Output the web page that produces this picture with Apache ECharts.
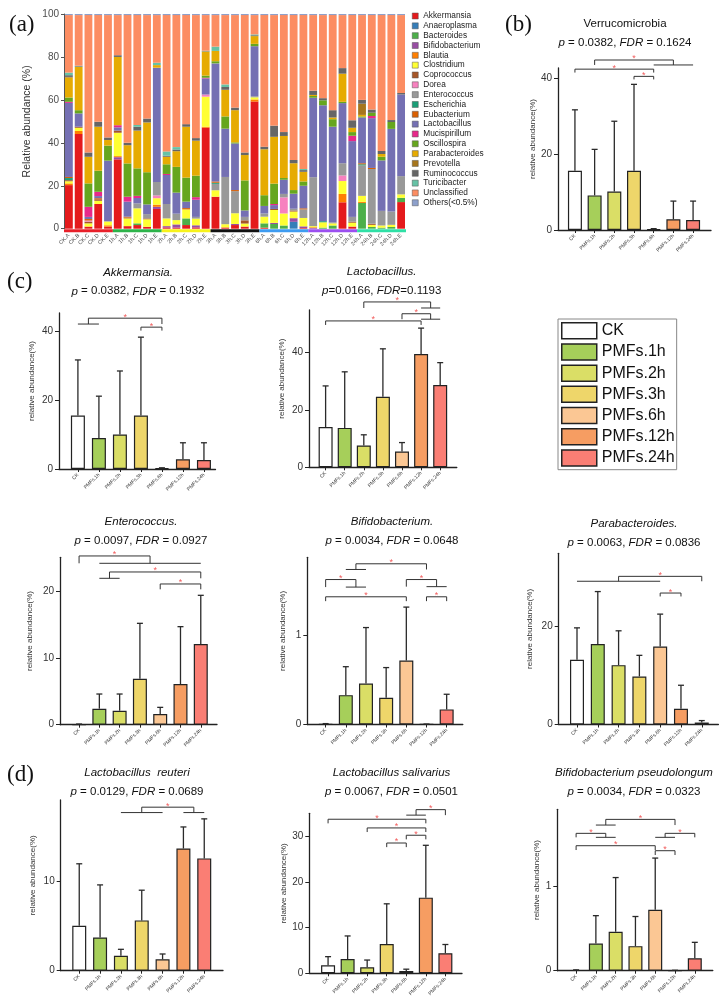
<!DOCTYPE html>
<html>
<head>
<meta charset="utf-8">
<title>PMFs gut microbiota</title>
<script src="https://cdn.jsdelivr.net/npm/echarts@6/dist/echarts.min.js"></script>
<style>
  html, body { margin: 0; padding: 0; background: #fff; }
  #chart { width: 725px; height: 1005px; }
</style>
</head>
<body>
<div id="chart"></div>
<script>
// ---------- (a) genus composition, one value per sample ----------
const samples = ['CK.A', 'CK.B', 'CK.C', 'CK.D', 'CK.E', '1h.A', '1h.B', '1h.C', '1h.D', '1h.E',
  '2h.A', '2h.B', '2h.C', '2h.D', '2h.E', '3h.A', '3h.B', '3h.C', '3h.D', '3h.E',
  '6h.A', '6h.B', '6h.C', '6h.D', '6h.E', '12h.A', '12h.B', '12h.C', '12h.D', '12h.E',
  '24h.A', '24h.B', '24h.C', '24h.D', '24h.E'];
const taxa = ['Akkermansia', 'Anaeroplasma', 'Bacteroides', 'Bifidobacterium', 'Blautia', 'Clostridium',
  'Coprococcus', 'Dorea', 'Enterococcus', 'Escherichia', 'Eubacterium', 'Lactobacillus', 'Mucispirillum',
  'Oscillospira', 'Parabacteroides', 'Prevotella', 'Ruminococcus', 'Turicibacter', 'Unclassified', 'Others(<0.5%)'];

const akkermansia = [20.3, 44.1, 1.0, 11.5, 1.0, 32.3, 1.2, 1.7, 0.9, 9.2, 0.6, 0.5, 1.7, 0.6, 47.0, 14.9, 0.6, 1.7, 1.0, 59.2, 0.5, 0, 0, 0, 0.3, 0, 0, 0, 12.3, 1.0, 0, 0, 0, 0, 12.4];
const anaeroplasma = [0, 0, 0, 0, 0, 0, 0, 0, 0, 0, 0, 0, 0, 0, 0, 0, 0, 0, 0, 0, 0, 0, 0, 3.2, 0, 0, 0, 0, 0, 0, 0, 0, 0, 0, 0];
const bacteroides = [0, 0, 0, 0, 0, 0, 0, 0.8, 0, 0, 0, 0, 3.1, 0, 0, 0, 0, 0, 0, 0, 2.0, 2.2, 1.5, 0, 0, 0, 0.5, 1.5, 0, 0, 12.0, 0.8, 0.5, 0.8, 2.0];
const bifidobacterium = [0, 0, 0, 0, 0, 1.0, 0, 0, 0, 1.0, 0.6, 1.5, 0, 1.0, 0, 0, 0, 0.5, 0, 0, 0, 0.5, 0, 1.7, 0.8, 0.4, 0, 0, 0, 0, 0, 0, 0, 0, 0];
const blautia = [0.8, 1.4, 0, 0, 0.6, 0.5, 0, 0, 0, 1.0, 0, 0, 0, 0, 0.5, 0, 0, 0, 0, 1.0, 0, 0, 0, 0, 0, 0.3, 0, 0, 3.9, 0, 0.5, 0, 0, 0, 0];
const clostridium = [1.0, 1.5, 1.5, 1.5, 1.8, 10.9, 3.6, 7.0, 3.5, 3.0, 3.6, 2.0, 4.2, 3.1, 14.0, 3.0, 1.5, 5.0, 1.4, 1.0, 3.1, 6.0, 5.6, 3.1, 3.9, 0.5, 2.5, 1.0, 6.0, 1.8, 2.8, 1.0, 1.0, 1.0, 1.6];
const coprococcus = [0.5, 0.5, 0.8, 0.7, 0, 1.0, 0.4, 0, 0.4, 0, 0, 0, 0, 0, 0, 0, 0, 0, 1.5, 0, 0, 0.5, 0, 0.5, 0, 0, 0, 0, 0, 0.5, 0, 0.5, 0, 0, 0];
const dorea = [0, 0, 0.5, 0, 0, 0, 0, 0, 0, 1.3, 0, 0, 0, 0, 1.0, 0, 0, 0, 0, 0, 0, 0, 7.5, 0, 0, 0, 0, 0, 2.6, 0, 0, 0, 0, 0, 0];
const enterococcus = [0, 0, 0, 0, 0, 0, 0, 2.3, 2.0, 6.3, 6.7, 3.0, 0, 0.8, 0, 3.0, 22.0, 10.3, 1.6, 0.5, 1.5, 0, 1.6, 0.8, 4.0, 22.8, 0, 0.5, 5.7, 2.2, 14.2, 25.5, 6.8, 6.2, 8.5];
const escherichia = [1.0, 0, 0, 0, 0, 0, 0, 0, 0, 0, 0, 0, 0, 0, 0, 0.5, 0, 0, 0, 0, 0, 0, 0, 0, 0, 0, 0.5, 0, 0, 0, 0.5, 0, 0, 0, 0];
const eubacterium = [0.5, 0, 0.7, 0.5, 0, 0, 0.4, 0, 0, 0, 0, 0, 0.6, 0, 0, 0.6, 0, 0.5, 0, 0, 0, 0, 0, 0, 0.5, 0, 0, 0, 0, 0, 0.5, 0.5, 0, 0, 0];
const lactobacillus = [34.5, 6.2, 1.0, 1.0, 28.3, 1.5, 7.0, 2.5, 4.5, 53.2, 13.5, 9.8, 3.0, 8.0, 7.5, 55.0, 22.5, 21.7, 3.0, 23.3, 3.5, 1.8, 6.6, 7.0, 10.5, 37.0, 54.0, 44.5, 28.0, 35.3, 21.3, 23.2, 23.5, 38.5, 38.0];
const mucispirillum = [0.5, 0, 4.7, 2.0, 0, 1.0, 2.3, 1.0, 0, 0, 0.5, 0, 0, 1.2, 0.3, 0, 0, 0, 0, 0, 0, 0.5, 0, 0, 0, 0, 0, 0, 0, 2.5, 0, 1.0, 0, 0, 0];
const oscillospira = [2.0, 1.5, 10.9, 9.8, 7.0, 0, 15.5, 12.8, 15.0, 0, 4.5, 12.0, 11.2, 10.0, 1.0, 1.0, 5.7, 0.5, 14.0, 1.1, 5.0, 9.5, 0.8, 1.7, 2.0, 0.8, 2.3, 3.5, 0.6, 1.7, 0.5, 1.5, 1.7, 3.2, 0];
const parabacteroides = [9.3, 20.2, 12.4, 20.5, 2.6, 31.8, 8.5, 17.6, 23.2, 1.2, 3.5, 7.3, 23.7, 16.3, 11.2, 4.8, 12.4, 15.0, 11.8, 3.6, 21.4, 21.8, 19.6, 12.5, 4.5, 0.5, 0, 0.8, 13.1, 2.0, 0.7, 0, 1.3, 0, 0];
const prevotella = [0.3, 0, 0, 0, 0, 0, 0, 0, 0, 0, 0, 0, 0, 0, 0, 0, 0, 0, 0, 0, 0, 0, 0, 0, 0, 0, 0, 0, 0, 0, 5.2, 0, 0, 0, 0];
const ruminococcus = [0.8, 0.3, 2.0, 2.3, 1.2, 0.8, 1.1, 1.8, 1.8, 0, 0.5, 0.8, 1.2, 1.2, 0.2, 0, 1.3, 1.2, 1.2, 0.4, 1.2, 5.2, 1.8, 1.5, 0.8, 2.0, 1.0, 3.4, 2.6, 3.5, 1.8, 1.5, 1.4, 0.9, 0.7];
const turicibacter = [1.2, 0.2, 0, 0, 0, 0, 0, 0.8, 0, 1.1, 2.0, 1.1, 0, 0, 0.2, 2.0, 1.2, 0, 0, 0.4, 0, 0, 0, 0, 0.5, 0, 0, 0, 0, 0, 0, 0, 0, 0, 0];
const unclassified = [26.8, 23.6, 64.0, 49.7, 57.0, 18.7, 59.5, 51.2, 48.2, 22.2, 63.5, 61.5, 50.8, 57.3, 16.6, 14.7, 32.3, 43.1, 64.0, 9.0, 61.3, 51.5, 54.5, 67.5, 71.7, 35.2, 38.7, 44.3, 24.7, 49.0, 39.5, 44.0, 63.3, 48.9, 36.3];
const others = [0.5, 0.5, 0.5, 0.5, 0.5, 0.5, 0.5, 0.5, 0.5, 0.5, 0.5, 0.5, 0.5, 0.5, 0.5, 0.5, 0.5, 0.5, 0.5, 0.5, 0.5, 0.5, 0.5, 0.5, 0.5, 0.5, 0.5, 0.5, 0.5, 0.5, 0.5, 0.5, 0.5, 0.5, 0.5];

const taxaValues = [akkermansia, anaeroplasma, bacteroides, bifidobacterium, blautia, clostridium, coprococcus,
  dorea, enterococcus, escherichia, eubacterium, lactobacillus, mucispirillum, oscillospira, parabacteroides,
  prevotella, ruminococcus, turicibacter, unclassified, others];
// first / last sample of each time point
const sampleGroups = [[0, 4], [5, 9], [10, 14], [15, 19], [20, 24], [25, 29], [30, 34]];

// ---------- (b)-(d) group means and upper error (mean + SD) ----------
const groups = ['CK', 'PMFs.1h', 'PMFs.2h', 'PMFs.3h', 'PMFs.6h', 'PMFs.12h', 'PMFs.24h'];

const verrucoMean = [15.6, 9.1, 10.1, 15.6, 0.2, 2.8, 2.6];
const verrucoUpper = [31.6, 21.2, 28.6, 38.3, 0.35, 7.6, 7.6];
const akkerMean = [15.5, 9.0, 10.0, 15.5, 0.2, 2.8, 2.6];
const akkerUpper = [31.6, 21.1, 28.4, 38.2, 0.35, 7.6, 7.6];
const lactoMean = [14.0, 13.7, 7.6, 24.5, 5.5, 39.4, 28.6];
const lactoUpper = [28.3, 33.2, 11.3, 41.2, 8.6, 48.4, 36.4];
const enteroMean = [0.05, 2.4, 2.1, 6.9, 1.6, 6.1, 12.1];
const enteroUpper = [0.1, 4.6, 4.6, 15.2, 2.6, 14.7, 19.4];
const bifidoMean = [0.005, 0.33, 0.46, 0.30, 0.72, 0.003, 0.17];
const bifidoUpper = [0.01, 0.65, 1.09, 0.64, 1.32, 0.005, 0.34];
const paraMean = [13.2, 16.4, 12.1, 9.8, 15.9, 3.2, 0.4];
const paraUpper = [19.7, 27.1, 19.1, 14.1, 22.5, 8.0, 0.8];
const reuteriMean = [5.0, 3.7, 1.67, 5.6, 1.27, 13.6, 12.5];
const reuteriUpper = [11.9, 9.55, 2.38, 8.96, 1.86, 16.0, 16.9];
const salivMean = [1.75, 3.13, 1.31, 6.4, 0.5, 16.55, 4.4];
const salivUpper = [3.64, 8.17, 2.9, 15.2, 0.9, 28.0, 6.3];
const pseudoMean = [0.005, 0.32, 0.46, 0.29, 0.72, 0.003, 0.146];
const pseudoUpper = [0.01, 0.65, 1.10, 0.64, 1.33, 0.005, 0.335];

// significance brackets: [left from, left to, right from, right to, level, drop]
const verrucoSig = [[1, 1, 4, 6, 44.7, 43.4], [0, 0, 4, 4, 42.3, 41.4], [3, 3, 4, 4, 40.4, 39.6]];
const akkerSig = [[0, 1, 4, 4, 43.7, 42.0], [3, 3, 4, 4, 41.1, 40.1]];
const lactoSig = [[2, 2, 5, 6, 57.5, 55.4], [4, 4, 5, 6, 53.4, 51.5], [0, 0, 5, 5, 50.9, 49.5]];
const enteroSig = [[0, 0, 1, 6, 25.3, 24.2], [1, 2, 6, 6, 22.9, 21.95], [4, 4, 6, 6, 21.1, 20.3]];
const bifidoSig = [[1, 2, 5, 5, 1.807, 1.743], [0, 0, 1, 2, 1.63, 1.545], [4, 4, 5, 6, 1.63, 1.55],
  [0, 0, 4, 4, 1.436, 1.387], [5, 5, 6, 6, 1.436, 1.387]];
const paraSig = [[0, 4, 6, 6, 30.2, 29.2], [4, 4, 5, 5, 26.8, 26.1]];
const reuteriSig = [[2, 4, 5, 6, 18.2, 17.6]];
const salivSig = [[4, 5, 6, 6, 35.8, 34.6], [0, 0, 5, 5, 33.7, 32.8], [2, 2, 5, 5, 31.8, 30.9],
  [4, 4, 5, 5, 30.2, 29.3], [3, 3, 4, 4, 28.5, 27.6]];
const pseudoSig = [[1, 2, 5, 5, 1.787, 1.72], [0, 0, 1, 2, 1.622, 1.575], [4, 5, 6, 6, 1.622, 1.575],
  [0, 0, 4, 4, 1.476, 1.425], [4, 4, 5, 5, 1.417, 1.366]];

// ---------- styles ----------
const FONT = 'Liberation Sans, Arial, sans-serif';
const taxaColors = ['#e41a1c', '#377eb8', '#4daf4a', '#984ea3', '#ff7f00', '#ffff33', '#a65628', '#f781bf',
  '#999999', '#1b9e77', '#d95f02', '#7570b3', '#e7298a', '#66a61e', '#e6ab02', '#a6761d', '#666666',
  '#66c2a5', '#fc8d62', '#8da0cb'];
const timeBarColors = ['#e8202a', '#2db34a', '#f7f21b', '#111111', '#3d9bf0', '#9b4ff0', '#2fe0a6'];
const groupColors = ['#ffffff', '#a6cf5a', '#dade66', '#eed66a', '#fbc794', '#f69d62', '#fa7e74'];
const groupIdx = [0, 1, 2, 3, 4, 5, 6];

function pLine(p, fdr, sep) {
  return '{i|p}{n|' + sep + p + ', }{i|FDR}{n|' + sep + fdr + '}';
}

const panels = [
  { name: 'Verrucomicrobia', italic: false, stat: pLine('0.0382', '0.1624', ' = '), mean: verrucoMean, upper: verrucoUpper, sig: verrucoSig,
    ticks: [0, 20, 40], left: 558, top: 68, width: 153, height: 162, yMax: 42.6, xMin: -0.86, xMax: 6.91, cx: 625, ty: 14.5, nameGap: 21 },
  { name: 'Akkermansia.', italic: true, stat: pLine('0.0382', '0.1932', ' = '), mean: akkerMean, upper: akkerUpper, sig: akkerSig,
    ticks: [0, 20, 40], left: 59, top: 313, width: 156.5, height: 156, yMax: 45.2, xMin: -0.9, xMax: 6.55, cx: 138, ty: 262.8, nameGap: 23 },
  { name: 'Lactobacillus.', italic: true, stat: pLine('0.0166', '0.1193', '='), mean: lactoMean, upper: lactoUpper, sig: lactoSig,
    ticks: [0, 20, 40], left: 309, top: 310, width: 147.8, height: 157.3, yMax: 54.7, xMin: -0.87, xMax: 6.87, cx: 381.7, ty: 262.5, nameGap: 23 },
  { name: 'Enterococcus.', italic: true, stat: pLine('0.0097', '0.0927', ' = '), mean: enteroMean, upper: enteroUpper, sig: enteroSig,
    ticks: [0, 10, 20], left: 60, top: 557.3, width: 157, height: 167.4, yMax: 25.1, xMin: -0.94, xMax: 6.8, cx: 141, ty: 512.5, nameGap: 26 },
  { name: 'Bifidobacterium.', italic: true, stat: pLine('0.0034', '0.0648', ' = '), mean: bifidoMean, upper: bifidoUpper, sig: bifidoSig,
    ticks: [0, 1], left: 307.3, top: 557.3, width: 155.5, height: 167.2, yMax: 1.88, xMin: -0.91, xMax: 6.8, cx: 392, ty: 512.5, nameGap: 20.6 },
  { name: 'Parabacteroides.', italic: true, stat: pLine('0.0063', '0.0836', ' = '), mean: paraMean, upper: paraUpper, sig: paraSig,
    ticks: [0, 20], left: 558.7, top: 553.3, width: 159.7, height: 171.2, yMax: 34.9, xMin: -0.88, xMax: 6.8, cx: 634, ty: 514.5, nameGap: 25.4 },
  { name: 'Lactobacillus  reuteri', italic: true, stat: pLine('0.0129', '0.0689', ' = '), mean: reuteriMean, upper: reuteriUpper, sig: reuteriSig,
    ticks: [0, 10], left: 60.7, top: 800, width: 162.3, height: 170.7, yMax: 19.0, xMin: -0.89, xMax: 6.9, cx: 137, ty: 763.2, nameGap: 23.7 },
  { name: 'Lactobacillus salivarius', italic: true, stat: pLine('0.0067', '0.0501', ' = '), mean: salivMean, upper: salivUpper, sig: salivSig,
    ticks: [0, 10, 20, 30], left: 309.3, top: 813.3, width: 152.7, height: 160, yMax: 35.0, xMin: -0.96, xMax: 6.85, cx: 391.5, ty: 763.2, nameGap: 19.3 },
  { name: 'Bifidobacterium pseudolongum', italic: true, stat: pLine('0.0034', '0.0323', ' = '), mean: pseudoMean, upper: pseudoUpper, sig: pseudoSig,
    ticks: [0, 1], left: 557.3, top: 809.3, width: 155.5, height: 161.4, yMax: 1.906, xMin: -0.95, xMax: 6.91, cx: 634, ty: 763.5, nameGap: 16.6 }
];

// ---------- option pieces ----------
const grids = [{ left: 64, top: 14, width: 342, height: 214.7 }];
const xAxes = [{
  type: 'category', gridIndex: 0, data: samples,
  axisLine: { show: false }, axisTick: { show: false },
  axisLabel: { interval: 0, rotate: 45, fontSize: 5.5, color: '#4d4d4d', margin: 6 }
}];
const yAxes = [{
  type: 'value', gridIndex: 0, min: 0, max: 100, interval: 20,
  name: 'Relative abundance (%)', nameLocation: 'middle', nameGap: 31,
  nameTextStyle: { fontSize: 10.5, color: '#333' },
  axisLine: { show: true, lineStyle: { color: '#555' } },
  axisTick: { show: true, length: 3, lineStyle: { color: '#555' } },
  axisLabel: { fontSize: 10, color: '#4d4d4d', margin: 5 },
  splitLine: { show: false }
}];
const series = [];
const titles = [
  { text: '(a)', left: 9, top: 13 }, { text: '(b)', left: 505, top: 13 },
  { text: '(c)', left: 7, top: 270 }, { text: '(d)', left: 7, top: 763 }
].map(t => Object.assign(t, { padding: 0, textStyle: { fontFamily: 'Liberation Serif, serif', fontSize: 23, fontWeight: 'normal', color: '#111' } }));

taxa.forEach((name, i) => {
  series.push({
    type: 'bar', name, stack: 'genus', xAxisIndex: 0, yAxisIndex: 0,
    barCategoryGap: '20%', data: taxaValues[i], itemStyle: { color: taxaColors[i] }
  });
});

// coloured strip under the samples of each time point
series.push({
  type: 'custom', xAxisIndex: 0, yAxisIndex: 0, silent: true, z: 5,
  data: sampleGroups.map((g, i) => [g[0], g[1], i]),
  renderItem(params, api) {
    const a = api.coord([api.value(0), 0]);
    const b = api.coord([api.value(1), 0]);
    const bw = api.size([1, 0])[0];
    return {
      type: 'rect',
      shape: { x: a[0] - bw / 2, y: a[1] + 0.5, width: b[0] - a[0] + bw, height: 3 },
      style: { fill: timeBarColors[api.value(2)] }
    };
  }
});

function errorBars(k, mean, upper) {
  return {
    type: 'custom', xAxisIndex: k, yAxisIndex: k, silent: true, z: 3,
    data: mean.map((m, i) => [i, m, upper[i]]),
    renderItem(params, api) {
      const base = api.coord([api.value(0), api.value(1)]);
      const top = api.coord([api.value(0), api.value(2)]);
      const st = { stroke: '#2a2a2a', lineWidth: 1.3 };
      return {
        type: 'group', children: [
          { type: 'line', shape: { x1: base[0], y1: base[1], x2: top[0], y2: top[1] }, style: st },
          { type: 'line', shape: { x1: top[0] - 3, y1: top[1], x2: top[0] + 3, y2: top[1] }, style: st }
        ]
      };
    }
  };
}

function brackets(k, sig) {
  return {
    type: 'custom', xAxisIndex: k, yAxisIndex: k, silent: true, z: 4,
    data: sig,
    renderItem(params, api) {
      const l0 = api.value(0), l1 = api.value(1), r0 = api.value(2), r1 = api.value(3);
      const lv = api.value(4), dr = api.value(5);
      const P = (x, y) => api.coord([x, y]);
      const xl = (l0 + l1) / 2, xr = (r0 + r1) / 2;
      const children = [];
      const seg = (a, b) => children.push({
        type: 'line', shape: { x1: a[0], y1: a[1], x2: b[0], y2: b[1] },
        style: { stroke: '#333', lineWidth: 1 }
      });
      seg(P(xl, lv), P(xr, lv));
      seg(P(xl, lv), P(xl, dr));
      seg(P(xr, lv), P(xr, dr));
      if (l1 > l0) seg(P(l0, dr), P(l1, dr));
      if (r1 > r0) seg(P(r0, dr), P(r1, dr));
      const m = P((xl + xr) / 2, lv);
      children.push({
        type: 'text',
        style: { text: '*', x: m[0], y: m[1] - 1, align: 'center', verticalAlign: 'middle', fill: '#f25c5c', fontSize: 9, fontFamily: FONT }
      });
      return { type: 'group', children };
    }
  };
}

const rich = {
  ti: { fontFamily: FONT, fontSize: 11.5, fontStyle: 'italic', fontWeight: 'normal', color: '#111', lineHeight: 19 },
  tn: { fontFamily: FONT, fontSize: 11.5, fontWeight: 'normal', color: '#111', lineHeight: 19 },
  i: { fontFamily: FONT, fontSize: 11.5, fontStyle: 'italic', fontWeight: 'normal', color: '#111', lineHeight: 19 },
  n: { fontFamily: FONT, fontSize: 11.5, fontWeight: 'normal', color: '#111', lineHeight: 19 }
};

panels.forEach((p, n) => {
  const k = n + 1;
  grids.push({ left: p.left, top: p.top, width: p.width, height: p.height });
  xAxes.push({
    type: 'value', gridIndex: k, min: p.xMin, max: p.xMax,
    axisLine: { show: true, onZero: false, lineStyle: { color: '#222', width: 1.3 } },
    axisTick: { show: true, customValues: groupIdx, length: 3, lineStyle: { color: '#222', width: 1 } },
    axisLabel: { customValues: groupIdx, rotate: 45, fontSize: 5, color: '#333', margin: 5,
      formatter: v => groups[Math.round(v)] },
    splitLine: { show: false }
  });
  yAxes.push({
    type: 'value', gridIndex: k, min: 0, max: p.yMax,
    name: 'relative abundance(%)', nameLocation: 'middle', nameGap: p.nameGap,
    nameTextStyle: { fontSize: 8, color: '#333', padding: [0, 0, 0, 20] },
    axisLine: { show: true, onZero: false, lineStyle: { color: '#222', width: 1.3 } },
    axisTick: { show: true, customValues: p.ticks, length: 4, lineStyle: { color: '#222', width: 1 } },
    axisLabel: { customValues: p.ticks, fontSize: 10, color: '#333', margin: 6 },
    splitLine: { show: false }
  });
  groups.forEach((g, i) => {
    series.push({
      type: 'bar', name: g, xAxisIndex: k, yAxisIndex: k, barWidth: 14, barGap: '-100%', z: 2,
      data: [[i, p.mean[i]]],
      itemStyle: { color: groupColors[i], borderColor: '#222', borderWidth: 1.2 }
    });
  });
  series.push(errorBars(k, p.mean, p.upper));
  series.push(brackets(k, p.sig));
  titles.push({
    left: p.cx, top: p.ty, textAlign: 'center', padding: 0,
    text: '{' + (p.italic ? 'ti' : 'tn') + '|' + p.name + '}\n' + p.stat,
    textStyle: { fontWeight: 'normal', rich }
  });
});

const chart = echarts.init(document.getElementById('chart'));
chart.setOption({
  animation: false,
  backgroundColor: '#fff',
  textStyle: { fontFamily: FONT },
  title: titles,
  legend: [
    {
      data: taxa, orient: 'vertical', left: 412, top: 12, padding: 0,
      icon: 'rect', itemWidth: 6, itemHeight: 6, itemGap: 1.83,
      itemStyle: { borderColor: '#555', borderWidth: 0.5 },
      textStyle: { fontSize: 8.3, lineHeight: 8, color: '#222' }
    },
    {
      data: groups, orient: 'vertical', left: 558, top: 319, padding: [3, 2, 3, 3],
      icon: 'rect', itemWidth: 35, itemHeight: 16, itemGap: 3.7,
      borderColor: '#888', borderWidth: 1,
      itemStyle: { borderColor: '#222', borderWidth: 1.5 },
      textStyle: { fontSize: 16, lineHeight: 16, color: '#111' }
    }
  ],
  grid: grids,
  xAxis: xAxes,
  yAxis: yAxes,
  series
});
</script>
</body>
</html>
